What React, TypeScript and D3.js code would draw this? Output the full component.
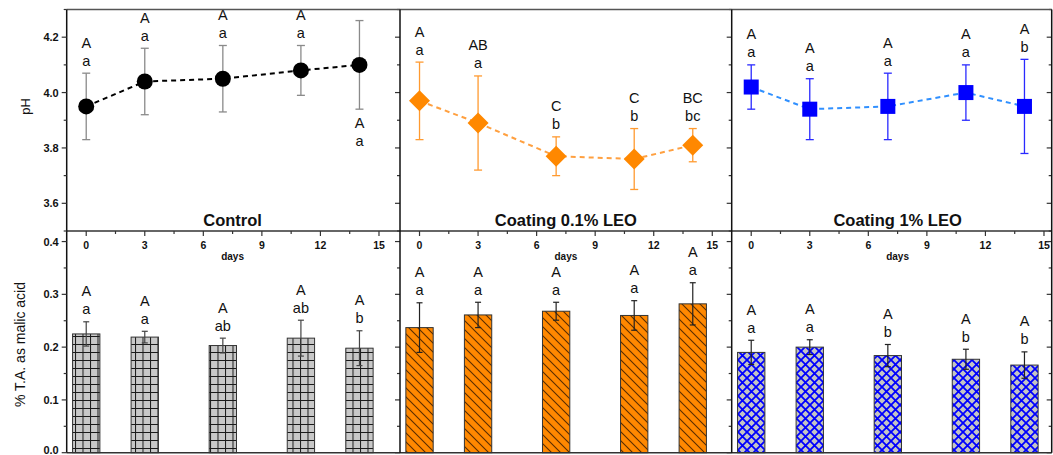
import React from 'react';
import * as d3 from 'd3';

// sampling days
const days = [0, 3, 7, 11, 14];

// pH (top row)
const phControl = [3.95, 4.04, 4.05, 4.08, 4.1];
const phControlErr = [0.12, 0.12, 0.12, 0.09, 0.16];
const phCoat01 = [3.97, 3.89, 3.77, 3.76, 3.81];
const phCoat01Err = [0.14, 0.17, 0.07, 0.11, 0.06];
const phCoat1 = [4.02, 3.94, 3.95, 4.0, 3.95];
const phCoat1Err = [0.08, 0.11, 0.12, 0.1, 0.17];

const phControlUpper = ['A', 'A', 'A', 'A', 'A'];
const phControlLower = ['a', 'a', 'a', 'a', 'a'];
const phControlSide = ['top', 'top', 'top', 'top', 'bottom'];
const phCoat01Upper = ['A', 'AB', 'C', 'C', 'BC'];
const phCoat01Lower = ['a', 'a', 'b', 'b', 'bc'];
const phCoat1Upper = ['A', 'A', 'A', 'A', 'A'];
const phCoat1Lower = ['a', 'a', 'a', 'a', 'b'];

// titratable acidity (bottom row)
const taControl = [0.225, 0.219, 0.203, 0.217, 0.198];
const taControlErr = [0.023, 0.011, 0.014, 0.034, 0.033];
const taCoat01 = [0.237, 0.261, 0.268, 0.26, 0.282];
const taCoat01Err = [0.047, 0.024, 0.017, 0.028, 0.04];
const taCoat1 = [0.19, 0.2, 0.184, 0.177, 0.166];
const taCoat1Err = [0.023, 0.014, 0.021, 0.019, 0.025];

const taControlUpper = ['A', 'A', 'A', 'A', 'A'];
const taControlLower = ['a', 'a', 'ab', 'ab', 'b'];
const taCoat01Upper = ['A', 'A', 'A', 'A', 'A'];
const taCoat01Lower = ['a', 'a', 'a', 'a', 'a'];
const taCoat1Upper = ['A', 'A', 'A', 'A', 'A'];
const taCoat1Lower = ['a', 'a', 'b', 'b', 'b'];

const panelTitles = ['Control', 'Coating 0.1% LEO', 'Coating 1% LEO'];
const phTicks = [3.6, 3.8, 4.0, 4.2];
const phMinor = [3.5, 3.7, 3.9, 4.1, 4.3];
const taTicks = [0, 0.1, 0.2, 0.3, 0.4];
const taMinor = [0.05, 0.15, 0.25, 0.35];
const dayTicks = [0, 3, 6, 9, 12, 15];
const dayMinor = [1.5, 4.5, 7.5, 10.5, 13.5];

const FONT = '"Liberation Sans", Arial, sans-serif';
const W = 1053;
const H = 455;
const panelLeft = [66.7, 400, 731.7];
const panelRight = [400, 731.7, 1051.7];
const panelW = 331.8;
const top = 9.5;
const mid = 231;
const bottom = 452.7;

const yPh = d3.scaleLinear().domain([3.5, 4.3]).range([mid, top]);
const yTa = d3.scaleLinear().domain([0, 0.42]).range([bottom, mid]);

const series = [
  {
    ph: phControl, phErr: phControlErr, phUp: phControlUpper, phLo: phControlLower, side: phControlSide,
    ta: taControl, taErr: taControlErr, taUp: taControlUpper, taLo: taControlLower,
    marker: 'circle', color: '#000000', line: '#000000', err: '#8a8a8a', barErr: '#444', fill: 'url(#gridPat)',
  },
  {
    ph: phCoat01, phErr: phCoat01Err, phUp: phCoat01Upper, phLo: phCoat01Lower, side: null,
    ta: taCoat01, taErr: taCoat01Err, taUp: taCoat01Upper, taLo: taCoat01Lower,
    marker: 'diamond', color: '#ff8800', line: '#ffa040', err: '#ff9a30', barErr: '#222', fill: 'url(#diagPat)',
  },
  {
    ph: phCoat1, phErr: phCoat1Err, phUp: phCoat1Upper, phLo: phCoat1Lower, side: null,
    ta: taCoat1, taErr: taCoat1Err, taUp: taCoat1Upper, taLo: taCoat1Lower,
    marker: 'square', color: '#0000ff', line: '#3090ff', err: '#2a2aff', barErr: '#222', fill: 'url(#diamPat)',
  },
];

const Letters = ({ x, y, up, lo }: { x: number; y: number; up: string; lo: string }) => (
  <g fontFamily={FONT} fontSize={14.5} fill="#111" textAnchor="middle">
    <text x={x} y={y - 18}>{up}</text>
    <text x={x} y={y}>{lo}</text>
  </g>
);

const Panel = ({ i }: { i: number }) => {
  const s = series[i];
  const left = panelLeft[i];
  const x = d3.scaleLinear().domain([-1, 16]).range([left, left + panelW]);
  const bw = x(1.4) - x(0);
  const line = d3.line<number>().x((_, k) => x(days[k])).y((v) => yPh(v));
  const cap = 4;

  const marker = (cx: number, cy: number, k: number) => {
    if (s.marker === 'circle') return <circle key={k} cx={cx} cy={cy} r={8} fill={s.color} />;
    if (s.marker === 'diamond') {
      const r = 10.5;
      return <path key={k} d={`M${cx},${cy - r}L${cx + r},${cy}L${cx},${cy + r}L${cx - r},${cy}Z`} fill={s.color} />;
    }
    return <rect key={k} x={cx - 7.5} y={cy - 7.5} width={15} height={15} fill={s.color} />;
  };

  return (
    <g>
      {/* pH line + error bars + markers */}
      <path d={line(s.ph) || ''} fill="none" stroke={s.line} strokeWidth={2} strokeDasharray="5,4" />
      {s.ph.map((v, k) => {
        const cx = x(days[k]);
        const y1 = yPh(v + s.phErr[k]);
        const y2 = yPh(v - s.phErr[k]);
        return (
          <g key={k} stroke={s.err} strokeWidth={1.3}>
            <line x1={cx} x2={cx} y1={y1} y2={y2} />
            <line x1={cx - cap} x2={cx + cap} y1={y1} y2={y1} />
            <line x1={cx - cap} x2={cx + cap} y1={y2} y2={y2} />
          </g>
        );
      })}
      {s.ph.map((v, k) => marker(x(days[k]), yPh(v), k))}
      {s.ph.map((v, k) => {
        const below = s.side && s.side[k] === 'bottom';
        const cx = x(days[k]);
        const yb = below ? yPh(v - s.phErr[k]) + 37 : yPh(v + s.phErr[k]) - 7.5;
        return <Letters key={k} x={cx} y={yb} up={s.phUp[k]} lo={s.phLo[k]} />;
      })}
      <text x={x(7.5)} y={226} textAnchor="middle" fontFamily={FONT} fontWeight="bold" fontSize={16.5} fill="#111">
        {panelTitles[i]}
      </text>

      {/* x axis on the shared line */}
      {dayTicks.map((d) => (
        <g key={d}>
          <line x1={x(d)} x2={x(d)} y1={mid} y2={mid + 5} stroke="#333" strokeWidth={1.2} />
          <text x={x(d)} y={249} textAnchor="middle" fontFamily={FONT} fontWeight="bold" fontSize={10.5} fill="#111">{d}</text>
        </g>
      ))}
      {dayMinor.map((d) => (
        <line key={d} x1={x(d)} x2={x(d)} y1={mid} y2={mid + 3} stroke="#333" strokeWidth={1.2} />
      ))}
      <text x={x(7.5)} y={259.5} textAnchor="middle" fontFamily={FONT} fontWeight="bold" fontSize={10} fill="#111">days</text>

      {/* bars */}
      {s.ta.map((v, k) => {
        const cx = x(days[k]);
        return (
          <rect key={k} x={cx - bw / 2} y={yTa(v)} width={bw} height={bottom - yTa(v)} fill={s.fill} stroke="#333" strokeWidth={1} />
        );
      })}
      {s.ta.map((v, k) => {
        const cx = x(days[k]);
        const y1 = yTa(v + s.taErr[k]);
        const y2 = yTa(v - s.taErr[k]);
        return (
          <g key={k} stroke={s.barErr} strokeWidth={1.2}>
            <line x1={cx} x2={cx} y1={y1} y2={y2} />
            <line x1={cx - 3} x2={cx + 3} y1={y1} y2={y1} />
            <line x1={cx - 3} x2={cx + 3} y1={y2} y2={y2} />
          </g>
        );
      })}
      {s.ta.map((v, k) => (
        <Letters key={k} x={x(days[k])} y={yTa(v + s.taErr[k]) - 7.5} up={s.taUp[k]} lo={s.taLo[k]} />
      ))}

      {/* inward ticks on right border */}
      {[...phTicks, ...phMinor].map((t) => (
        <line key={'p' + t} x1={panelRight[i]} x2={panelRight[i] - (phTicks.includes(t) ? 5 : 3)} y1={yPh(t)} y2={yPh(t)} stroke="#333" strokeWidth={1.2} />
      ))}
      {[...taTicks, ...taMinor].map((t) => (
        <line key={'t' + t} x1={panelRight[i]} x2={panelRight[i] - (taTicks.includes(t) ? 5 : 3)} y1={yTa(t)} y2={yTa(t)} stroke="#333" strokeWidth={1.2} />
      ))}
    </g>
  );
};

export default function App() {
  const L = panelLeft[0];
  return (
    <svg width={W} height={H} style={{ position: 'absolute', left: 0, top: 0, background: '#fff' }}>
      <defs>
        <pattern id="gridPat" patternUnits="userSpaceOnUse" width={7.5} height={8}>
          <rect width={7.5} height={8} fill="#c8c8c8" />
          <path d="M0,0.5H7.5M0.5,0V8" stroke="#1a1a1a" strokeWidth={1} />
        </pattern>
        <pattern id="diagPat" patternUnits="userSpaceOnUse" width={9} height={9}>
          <rect width={9} height={9} fill="#ff8800" />
          <path d="M0,0L9,9M-1,8L1,10M8,-1L10,1" stroke="#5a2c00" strokeWidth={1.1} />
        </pattern>
        <pattern id="diamPat" patternUnits="userSpaceOnUse" width={9} height={9}>
          <rect width={9} height={9} fill="#c4c4c4" />
          <path d="M0,0L9,9M9,0L0,9" stroke="#0000ff" strokeWidth={1.8} />
        </pattern>
      </defs>

      {[0, 1, 2].map((i) => (
        <Panel key={i} i={i} />
      ))}

      {/* frame */}
      <g stroke="#333" strokeWidth={1.5} fill="none">
        <line x1={L} x2={panelRight[2]} y1={top} y2={top} stroke="#555" />
        <line x1={L} x2={panelRight[2]} y1={mid} y2={mid} />
        <line x1={L} x2={panelRight[2]} y1={bottom} y2={bottom} />
        {[...panelLeft, panelRight[2]].map((xx) => (
          <line key={xx} x1={xx} x2={xx} y1={top} y2={bottom} stroke="#111" />
        ))}
      </g>

      {/* left axes */}
      {phTicks.map((t) => (
        <g key={t}>
          <line x1={L} x2={L - 5} y1={yPh(t)} y2={yPh(t)} stroke="#333" strokeWidth={1.2} />
          <text x={L - 8} y={yPh(t) + 4} textAnchor="end" fontFamily={FONT} fontWeight="bold" fontSize={11} fill="#111">{t.toFixed(1)}</text>
        </g>
      ))}
      {phMinor.map((t) => (
        <line key={t} x1={L} x2={L - 3} y1={yPh(t)} y2={yPh(t)} stroke="#333" strokeWidth={1.2} />
      ))}
      {taTicks.map((t) => (
        <g key={t}>
          <line x1={L} x2={L - 5} y1={yTa(t)} y2={yTa(t)} stroke="#333" strokeWidth={1.2} />
          <text x={L - 8} y={Math.min(yTa(t) + 4, H - 1)} textAnchor="end" fontFamily={FONT} fontWeight="bold" fontSize={11} fill="#111">{t.toFixed(1)}</text>
        </g>
      ))}
      {taMinor.map((t) => (
        <line key={t} x1={L} x2={L - 3} y1={yTa(t)} y2={yTa(t)} stroke="#333" strokeWidth={1.2} />
      ))}

      <text transform={`translate(30,${yPh(3.95)}) rotate(-90)`} textAnchor="middle" fontFamily={FONT} fontSize={13} fill="#111">pH</text>
      <text transform={`translate(25,${yTa(0.205)}) rotate(-90)`} textAnchor="middle" fontFamily={FONT} fontSize={14} fill="#111">% T.A. as malic acid</text>
    </svg>
  );
}
